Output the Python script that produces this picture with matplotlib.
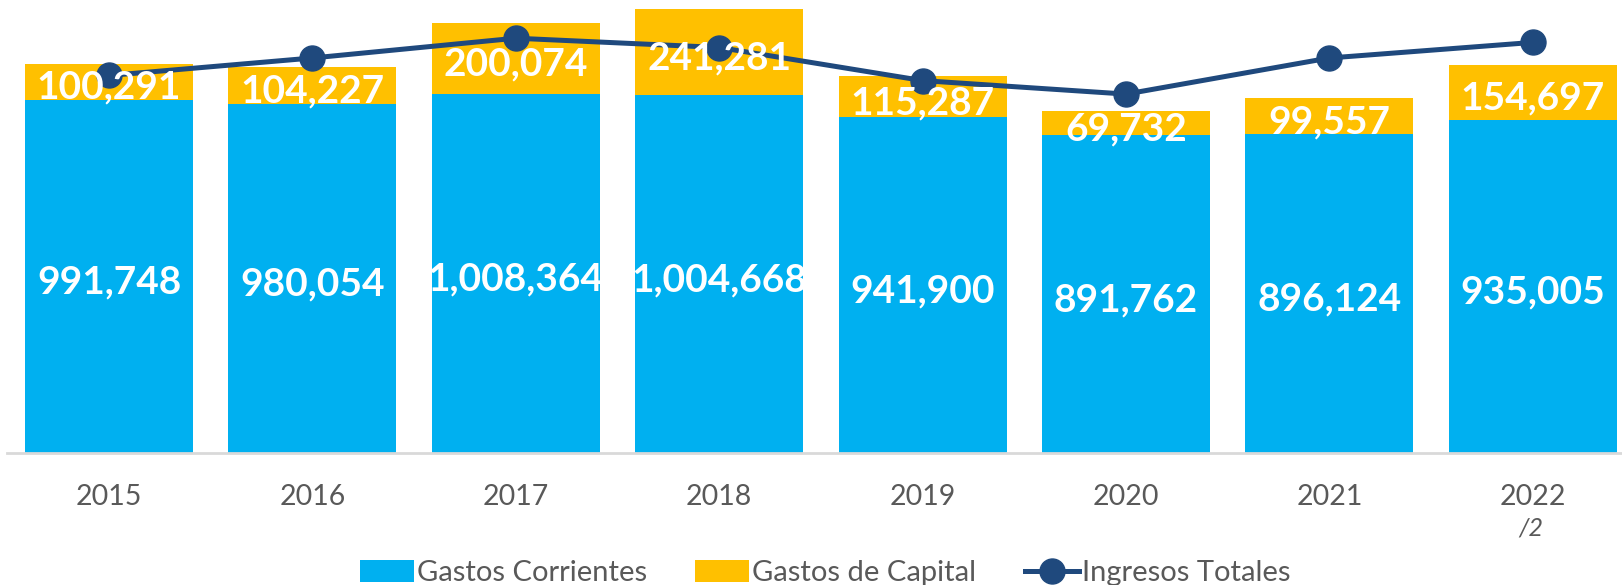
import matplotlib
matplotlib.use("Agg")
import matplotlib.pyplot as plt
import numpy as np

years = ["2015", "2016", "2017", "2018", "2019", "2020", "2021", "2022"]
gastos_corrientes = [991748, 980054, 1008364, 1004668, 941900, 891762, 896124, 935005]
gastos_capital = [100291, 104227, 200074, 241281, 115287, 69732, 99557, 154697]
ingresos_totales = [1059800, 1109000, 1164500, 1138400, 1045500, 1007600, 1109000, 1152700]

BLUE = "#00B0F0"
YELLOW = "#FFC000"
NAVY = "#1F497D"
GRAY = "#595959"

plt.rcParams['font.family'] = ['Lato', 'DejaVu Sans']

W, H = 1622, 585
fig = plt.figure(figsize=(W / 100, H / 100), dpi=100)
left_px, base_px, top_px = 7.3, 453, 0
slot = 203.4
ax = fig.add_axes([left_px / W, (H - base_px) / H, 8 * slot / W, (base_px - top_px) / H])

x = np.arange(len(years))
bw = 0.826
b1 = ax.bar(x, gastos_corrientes, bw, color=BLUE, label="Gastos Corrientes", zorder=2)
b2 = ax.bar(x, gastos_capital, bw, bottom=gastos_corrientes, color=YELLOW,
            label="Gastos de Capital", zorder=2)
ln, = ax.plot(x, ingresos_totales, color=NAVY, lw=3.6, marker="o", ms=18,
              label="Ingresos Totales", zorder=4)

for i in range(len(years)):
    ax.annotate(f"{gastos_corrientes[i]:,}", (x[i], gastos_corrientes[i] / 2),
                xytext=(0, -4), textcoords="offset points", ha="center",
                va="center", color="white", fontsize=28, fontweight="bold", zorder=5)
    ax.annotate(f"{gastos_capital[i]:,}", (x[i], gastos_corrientes[i] + gastos_capital[i] / 2),
                xytext=(0, -4), textcoords="offset points", ha="center",
                va="center", color="white", fontsize=28, fontweight="bold", zorder=5)

ax.set_xlim(-0.5, 7.5)
ax.set_ylim(0, 453 / 3.562e-4)
ax.set_xticks(x)
ax.set_xticklabels(years, fontsize=20.5, color=GRAY)
ax.tick_params(axis="x", length=0, pad=22)
ax.set_yticks([])
for s in ["top", "right", "left"]:
    ax.spines[s].set_visible(False)
ax.spines["bottom"].set_color("#D9D9D9")
ax.spines["bottom"].set_linewidth(2)

fig.text(1531 / W, 1 - 528 / H, "/2", ha="center", va="center", fontsize=18,
         style="italic", color=GRAY)

fig.legend(handles=[b1, b2, ln], labels=["Gastos Corrientes", "Gastos de Capital", "Ingresos Totales"],
           loc="center", bbox_to_anchor=(825 / W, 1 - 573 / H), ncol=3, frameon=False,
           fontsize=21, handlelength=1.85, handletextpad=0.1, columnspacing=1.67,
           labelcolor=GRAY, handleheight=0.75)

fig.savefig("out.png", dpi=100)
